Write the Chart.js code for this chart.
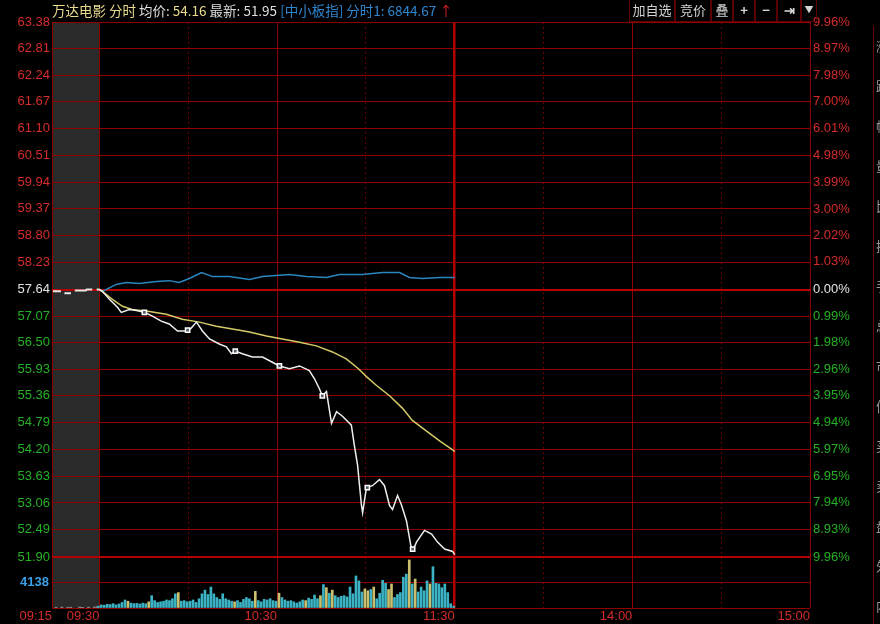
<!DOCTYPE html>
<html>
<head>
<meta charset="utf-8">
<script src="https://cdn.jsdelivr.net/npm/chart.js@4.4.0/dist/chart.umd.min.js"></script>
<style>
  body { margin: 0; background: #000; }
  #wrap { position: relative; width: 880px; height: 624px; background: #000; overflow: hidden;
          font-family: "Noto Sans CJK SC", "Liberation Sans", sans-serif; }
  #chart { position: absolute; left: 0; top: 0; }
  #hdr { position: absolute; top: 1px; left: 52px; font-size: 13.5px; line-height: 19px; white-space: nowrap; }
  #tools { position: absolute; top: 0; left: 629px; height: 22px; display: flex; }
  #tools div { border: 1px solid #5c0000; border-top: none; color: #d4d4d4; font-size: 13px; line-height: 20px;
               padding: 0 2px; text-align: center; }
  #side { position: absolute; left: 873px; top: 26px; width: 7px; height: 598px; border-left: 1px solid #6a0000;
          overflow: hidden; color: #9a9a9a; font-size: 13px; line-height: 40px; }
</style>
</head>
<body>
<div id="wrap">
  <canvas id="chart" width="880" height="624"></canvas>
  <div id="hdr"></div>
  <div id="tools">
    <div style="width:40px">加自选</div><div style="width:30px">竞价</div><div style="width:16px">叠</div>
    <div style="width:16px;font-weight:bold">+</div><div style="width:16px;font-weight:bold">−</div>
    <div style="width:18px;font-weight:bold">⇥</div><div style="width:10px;font-size:9px">▼</div>
  </div>
  <div id="side"><div style="margin-left:2px">涨<br>跌<br>幅<br>量<br>比<br>换<br>手<br>总<br>市<br>值<br>买<br>卖<br>盘<br>外<br>内</div></div>
</div>
<script>
// header values
const stockName = '万达电影';
const avgPrice = '54.16';
const lastPrice = '51.95';
const indexName = '[中小板指]';
const indexLast = '6844.67';

const prevClose = 57.64;
const priceTicks = [63.38, 62.81, 62.24, 61.67, 61.10, 60.51, 59.94, 59.37, 58.80, 58.23, 57.64,
                    57.07, 56.50, 55.93, 55.36, 54.79, 54.20, 53.63, 53.06, 52.49, 51.90];
const pctTicks = [9.96, 8.97, 7.98, 7.00, 6.01, 4.98, 3.99, 3.00, 2.02, 1.03, 0.00,
                  -0.99, -1.98, -2.96, -3.95, -4.94, -5.97, -6.95, -7.94, -8.93, -9.96];
const volTicks = [0, 4138];
const volMax = 8276;

// minutes from 09:30 (0..120 morning, 120..240 afternoon), pre-market is negative
const timeTicks = [-16, 0, 30, 60, 90, 120, 150, 180, 210, 240];
const timeLabels = ['09:15', '09:30', '', '10:30', '', '11:30', '', '14:00', '', '15:00'];
const dottedTimes = [30, 90, 150, 210];

// pre-market auction price marks
const preMin = [-15.7, -13.0, -12.6, -11.8, -9.6, -9.2, -8.3, -4.6, -4.3, -2.4, -2.0, -0.9, 0];
const preVal = [57.60, 57.60, null, 57.56, 57.56, null, 57.62, 57.62, 57.64, 57.64, null, 57.64, 57.64];

// price line
const priceMin = [0, 1, 3.4, 6.1, 7.4, 10.1, 12.5, 15.2, 17.9, 20.9, 23.6, 26.4, 29.4, 30.7, 32.8,
                  34.8, 37.2, 40.5, 42.9, 44.6, 45.9, 48.3, 51.7, 55.1, 58.1, 60.8, 64.2, 67.6, 70.9, 72.6,
                  74.3, 75.3, 76.7, 78.4, 80.1, 82.1, 85.1, 86.1, 87.2, 88.5, 88.9, 90.2, 92.2, 94.6, 96.3,
                  98.0, 99.0, 100.7, 102.0, 103.7, 105.4, 106.1, 107.1, 109.8, 112.2, 114.2, 116.6, 119.3, 120];
const priceVal = [57.64, 57.60, 57.43, 57.26, 57.15, 57.21, 57.19, 57.15, 57.07, 56.96, 56.90, 56.75, 56.75, 56.79, 56.94,
                  56.75, 56.58, 56.47, 56.41, 56.26, 56.32, 56.26, 56.19, 56.19, 56.09, 56.00, 55.94, 56.00, 55.90, 55.73,
                  55.51, 55.36, 55.45, 54.77, 55.02, 54.92, 54.73, 54.30, 53.87, 53.02, 52.85, 53.39, 53.43, 53.56, 53.43,
                  53.00, 52.92, 53.22, 53.02, 52.68, 52.07, 52.07, 52.22, 52.47, 52.39, 52.22, 52.07, 52.02, 51.95];

// average price line
const avgMin = [0, 1, 4.4, 7.8, 11.1, 16.9, 22.6, 28.0, 33.8, 39.5, 44.9, 50.7, 56.4, 61.8,
                67.6, 73.3, 78.7, 83.4, 87.5, 90.2, 93.6, 98.0, 102.4, 105.7, 110.5, 114.9, 119.3, 120];
const avgVal = [57.64, 57.60, 57.43, 57.28, 57.21, 57.17, 57.11, 57.00, 56.94, 56.85, 56.79, 56.73, 56.64, 56.58,
                56.51, 56.43, 56.30, 56.15, 55.94, 55.77, 55.58, 55.36, 55.09, 54.83, 54.60, 54.39, 54.20, 54.16];

// overlay index, percent change
const idxMin = [0, 1.0, 5.7, 9.1, 13.5, 19.3, 23.6, 27.0, 30.4, 34.5, 38.2, 43.9, 50.7,
                55.1, 64.2, 69.9, 76.7, 81.1, 88.9, 95.6, 101.4, 104.7, 109.1, 114.9, 120];
const idxPct = [0, -0.07, 0.19, 0.26, 0.22, 0.30, 0.33, 0.26, 0.41, 0.63, 0.48, 0.48, 0.37,
                0.48, 0.56, 0.48, 0.45, 0.56, 0.56, 0.63, 0.63, 0.45, 0.41, 0.45, 0.45];

// big order marks on the price line
const markMin = [15.2, 29.8, 45.9, 60.8, 75.3, 90.5, 105.8];
const markVal = [57.15, 56.77, 56.32, 56.00, 55.36, 53.39, 52.07];

// volume per minute, 09:30 .. 11:30
const volumes = [300, 500, 450, 600, 550, 700, 500, 650, 900, 1300, 1100, 800, 700, 750, 650, 800, 700, 1000, 2000, 1200,
                 900, 1000, 1100, 1300, 1200, 1500, 2300, 2500, 1100, 1200, 1000, 1100, 1300, 900, 1500, 2300, 2900, 2200, 3400, 2300,
                 1700, 1400, 2300, 1500, 1300, 1100, 1000, 1200, 900, 1400, 1700, 1500, 1100, 2700, 1200, 1000, 1400, 1300, 1500, 1200,
                 1100, 2400, 1700, 1300, 1100, 1200, 1000, 800, 1000, 1300, 1200, 1600, 1400, 2100, 1500, 2000, 3800, 3300, 2400, 2900,
                 2000, 1700, 1900, 2000, 1800, 3400, 2300, 5200, 4400, 2600, 3100, 2800, 3000, 3400, 1500, 2400, 4500, 4000, 3000, 3900,
                 1700, 2200, 2500, 5000, 5500, 7800, 3900, 4700, 2600, 3400, 2800, 4400, 3900, 6700, 4000, 3900, 3300, 3900, 2500, 700, 300];
const upMinutes = [10, 17, 27, 46, 53, 61, 70, 75, 77, 79, 90, 91, 93, 98, 99, 105, 107, 112];
const preVolMin = [-15, -13, -11, -10, -7, -6, -4, -2, -1];
const preVolVal = [120, 150, 100, 130, 150, 110, 140, 160, 200];

document.getElementById('hdr').innerHTML =
  '<span style="color:#eadc8e">' + stockName + ' 分时 </span>' +
  '<span style="color:#dedede">均价: </span><span style="color:#eadc8e">' + avgPrice + '</span> ' +
  '<span style="color:#dedede">最新: ' + lastPrice + '</span> ' +
  '<span style="color:#2f86d0">' + indexName + ' 分时1: ' + indexLast + '</span> ' +
  '<span style="color:#e02020">↑</span>';

const RED = '#d42c2c', GREEN = '#25b025', WHITE = '#e4e4e4';
const GRID = '#8e0000', GRID_STRONG = '#b40000';

function pts(xs, ys) { return xs.map((x, i) => ({ x: x, y: ys[i] })); }

function fixWidth(w) {
  return function (s) { s.width = w; s.paddingTop = 0; s.paddingBottom = 0; };
}

const preBand = {
  id: 'preBand',
  beforeDraw(chart) {
    const { ctx, chartArea, scales } = chart;
    const x0 = scales.x.getPixelForValue(timeTicks[0]);
    const x1 = scales.x.getPixelForValue(0);
    ctx.save();
    ctx.fillStyle = '#2a2a2a';
    ctx.fillRect(x0, chartArea.top, x1 - x0, chartArea.bottom - chartArea.top);
    ctx.restore();
  }
};

const ctx = document.getElementById('chart').getContext('2d');
new Chart(ctx, {
  type: 'line',
  data: {
    datasets: [
      {
        type: 'bar', yAxisID: 'yVol', data: pts(volumes.map((v, i) => i), volumes),
        backgroundColor: volumes.map((v, i) => upMinutes.includes(i) ? '#c9bf6c' : '#3cb3c4'),
        barThickness: 2, order: 5
      },
      {
        type: 'bar', yAxisID: 'yVol', data: pts(preVolMin, preVolVal),
        backgroundColor: '#9a9a9a', barThickness: 2, order: 5
      },
      {
        yAxisID: 'yPct', data: pts(idxMin, idxPct), borderColor: '#2b86c0',
        borderWidth: 1.5, pointRadius: 0, tension: 0, order: 3
      },
      {
        yAxisID: 'yPrice', data: pts(avgMin, avgVal), borderColor: '#d4ca68',
        borderWidth: 1.5, pointRadius: 0, tension: 0, order: 2
      },
      {
        yAxisID: 'yPrice', data: pts(preMin, preVal), borderColor: '#e8e8e8',
        borderWidth: 2, pointRadius: 0, spanGaps: false, order: 1
      },
      {
        yAxisID: 'yPrice', data: pts(priceMin, priceVal), borderColor: '#eeeeee',
        borderWidth: 1.5, pointRadius: 0, tension: 0, order: 1
      },
      {
        yAxisID: 'yPrice', data: pts(markMin, markVal), showLine: false,
        pointStyle: 'rect', pointRadius: 3, borderWidth: 1.5,
        pointBorderColor: '#ffffff', pointBackgroundColor: '#56606a', order: 0
      }
    ]
  },
  options: {
    responsive: false,
    animation: false,
    devicePixelRatio: 1,
    events: [],
    layout: { padding: { top: 22, left: 0, right: 0, bottom: 0 } },
    plugins: { legend: { display: false }, tooltip: { enabled: false } },
    scales: {
      x: {
        type: 'linear', min: timeTicks[0], max: timeTicks[timeTicks.length - 1], offset: false,
        afterBuildTicks: s => { s.ticks = timeTicks.map(v => ({ value: v })); },
        afterFit: s => { s.height = 16; s.paddingLeft = 0; s.paddingRight = 0; },
        ticks: {
          autoSkip: false, maxRotation: 0, align: 'end', padding: 1, color: RED,
          font: { family: 'Liberation Sans', size: 13 },
          callback: v => timeLabels[timeTicks.indexOf(v)]
        },
        grid: {
          offset: false,
          drawTicks: false,
          color: c => dottedTimes.includes(c.tick && c.tick.value) ? '#6e0000' : (c.tick && c.tick.value === 120 ? GRID_STRONG : GRID),
          lineWidth: c => (c.tick && c.tick.value === 120) ? 2.5 : 1
        },
        border: { display: false, dash: c => dottedTimes.includes(c.tick && c.tick.value) ? [2, 3] : [] }
      },
      yVol: {
        type: 'linear', position: 'left', stack: 'left', stackWeight: 51, min: 0, max: volMax,
        afterBuildTicks: s => { s.ticks = volTicks.map(v => ({ value: v })); },
        afterFit: fixWidth(52),
        ticks: {
          padding: 3, color: '#3a9fe6', font: { family: 'Liberation Sans', size: 13, weight: 'bold' },
          callback: v => v === 0 ? '' : String(v)
        },
        grid: { drawTicks: false, color: GRID, lineWidth: 1 },
        border: { display: false }
      },
      yPrice: {
        type: 'linear', position: 'left', stack: 'left', stackWeight: 535,
        min: priceTicks[priceTicks.length - 1], max: priceTicks[0],
        afterBuildTicks: s => { s.ticks = priceTicks.map(v => ({ value: v })); },
        afterFit: fixWidth(52),
        ticks: {
          autoSkip: false, padding: 2, font: { family: 'Liberation Sans', size: 13 },
          color: c => c.tick.value > prevClose ? RED : (c.tick.value < prevClose ? GREEN : WHITE),
          callback: v => v.toFixed(2)
        },
        grid: {
          drawTicks: false,
          color: c => (c.tick && (c.tick.value === prevClose || c.tick.value === priceTicks[priceTicks.length - 1])) ? GRID_STRONG : GRID,
          lineWidth: c => (c.tick && (c.tick.value === prevClose || c.tick.value === priceTicks[priceTicks.length - 1])) ? 2 : 1
        },
        border: { display: false }
      },
      yPct: {
        type: 'linear', position: 'right', stack: 'right', stackWeight: 535,
        min: pctTicks[pctTicks.length - 1], max: pctTicks[0],
        afterBuildTicks: s => { s.ticks = pctTicks.map(v => ({ value: v })); },
        afterFit: fixWidth(70),
        ticks: {
          autoSkip: false, padding: 3, font: { family: 'Liberation Sans', size: 13 },
          color: c => c.tick.value > 0 ? RED : (c.tick.value < 0 ? GREEN : WHITE),
          callback: v => Math.abs(v).toFixed(2) + '%'
        },
        grid: { display: false, drawTicks: false },
        border: { display: false }
      },
      yVolR: {
        type: 'linear', position: 'right', stack: 'right', stackWeight: 51, min: 0, max: volMax,
        afterFit: fixWidth(70),
        ticks: { display: false },
        grid: { display: false, drawTicks: false },
        border: { display: false }
      }
    }
  },
  plugins: [preBand]
});
</script>
</body>
</html>
